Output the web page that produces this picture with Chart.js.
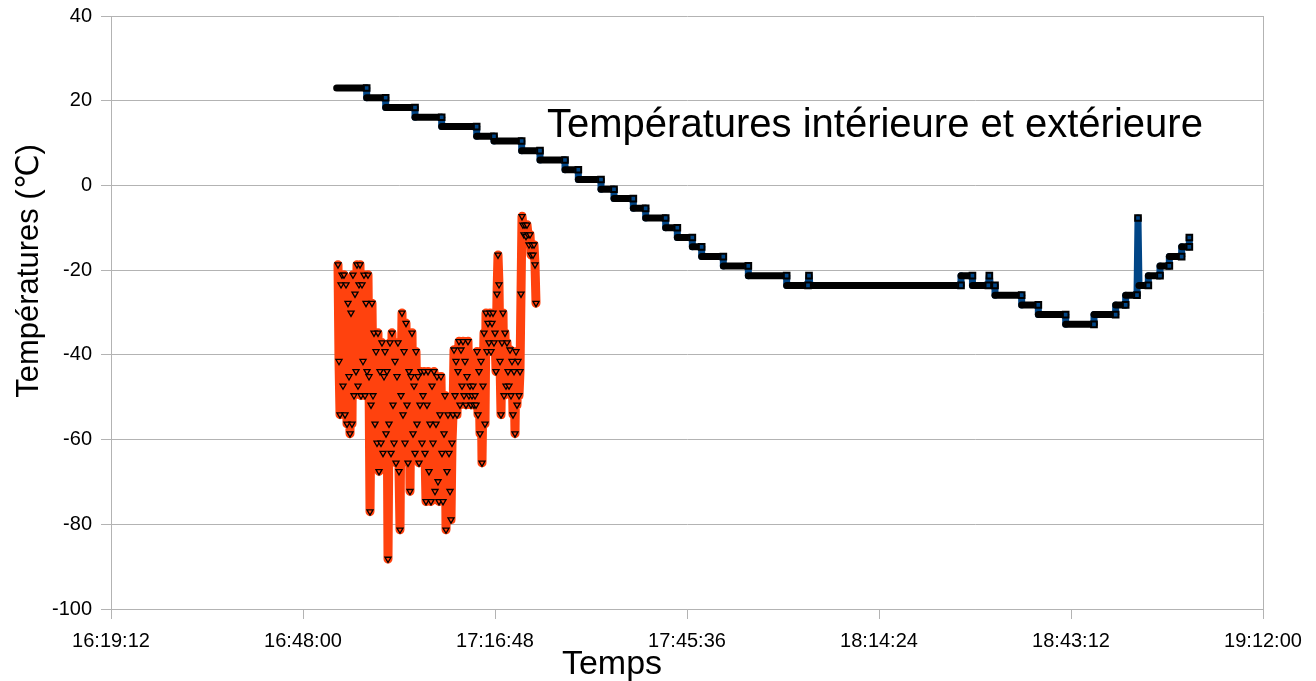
<!DOCTYPE html>
<html lang="fr">
<head>
<meta charset="utf-8">
<title>Températures intérieure et extérieure</title>
<script src="https://cdn.jsdelivr.net/npm/chart.js@4.4.1/dist/chart.umd.min.js"></script>
<style>
  html, body { margin: 0; padding: 0; background: #ffffff; }
  canvas { display: block; }
</style>
</head>
<body>
<canvas id="chart" width="1316" height="681"></canvas>
<script>
// ---- Data -------------------------------------------------------------
const chartTitle = 'Températures intérieure et extérieure';
const xAxisTitle = 'Temps';
const yAxisTitle = 'Températures (\u2103)';

// Axis range and ticks
const xStart = '16:19:12';
const xEnd = '19:12:00';
const xTickStep = '00:28:48';
const yMin = -100;
const yMax = 40;
const yTickStep = 20;

// Interior sensor: stepped readings (start / end of every plateau)
const insideTimes = [
  '16:53:03', '16:57:33', '16:57:33', '17:00:24', '17:00:24', '17:04:48', '17:04:48', '17:08:48',
  '17:08:48', '17:14:03', '17:14:03', '17:16:39', '17:16:39', '17:20:48', '17:20:48', '17:23:33',
  '17:23:33', '17:27:18', '17:27:18', '17:29:18', '17:29:18', '17:32:42', '17:32:42', '17:34:39',
  '17:34:39', '17:37:33', '17:37:33', '17:39:24', '17:39:24', '17:42:24', '17:42:24', '17:44:09',
  '17:44:09', '17:46:24', '17:46:24', '17:47:48', '17:47:48', '17:51:03', '17:51:03', '17:54:48',
  '17:54:48', '18:00:33', '18:00:33', '18:03:45', '18:03:54', '18:04:03', '18:26:42', '18:26:42',
  '18:28:25', '18:28:25', '18:30:48', '18:30:57', '18:31:06', '18:31:48', '18:31:48', '18:35:48',
  '18:35:48', '18:38:18', '18:38:18', '18:42:24', '18:42:24', '18:46:39', '18:46:39', '18:49:54',
  '18:49:54', '18:51:24', '18:51:24', '18:53:06', '18:53:15', '18:53:24', '18:54:48', '18:54:48',
  '18:56:33', '18:56:33', '18:57:57', '18:57:57', '18:59:48', '18:59:48', '19:00:57', '19:00:57'
];
const insideTemps = [
  23.0, 23.0, 20.7, 20.7, 18.4, 18.4, 16.1, 16.1,
  13.9, 13.9, 11.6, 11.6, 10.5, 10.5, 8.2, 8.2,
  6.0, 6.0, 3.7, 3.7, 1.4, 1.4, -0.9, -0.9,
  -3.1, -3.1, -5.4, -5.4, -7.7, -7.7, -10.0, -10.0,
  -12.3, -12.3, -14.5, -14.5, -16.8, -16.8, -19.0, -19.0,
  -21.3, -21.3, -23.6, -23.6, -21.3, -23.6, -23.6, -21.3,
  -21.3, -23.6, -23.6, -21.3, -23.6, -23.6, -25.9, -25.9,
  -28.2, -28.2, -30.5, -30.5, -32.8, -32.8, -30.5, -30.5,
  -28.2, -28.2, -25.9, -25.9, -7.7, -23.6, -23.6, -21.3,
  -21.3, -19.0, -19.0, -16.8, -16.8, -14.5, -14.5, -12.3
];

// Exterior sensor: raw noisy samples
const outsideTimes = [
  '16:53:15', '16:53:24', '16:53:33', '16:53:42', '16:53:51', '16:54:00', '16:54:09', '16:54:18', '16:54:27', '16:54:36',
  '16:54:45', '16:54:54', '16:55:03', '16:55:12', '16:55:21', '16:55:30', '16:55:39', '16:55:48', '16:55:57', '16:56:06',
  '16:56:15', '16:56:24', '16:56:33', '16:56:42', '16:56:51', '16:57:00', '16:57:09', '16:57:18', '16:57:27', '16:57:36',
  '16:57:45', '16:57:54', '16:58:03', '16:58:12', '16:58:21', '16:58:30', '16:58:39', '16:58:48', '16:58:57', '16:59:06',
  '16:59:15', '16:59:24', '16:59:33', '16:59:42', '16:59:51', '17:00:00', '17:00:09', '17:00:18', '17:00:27', '17:00:36',
  '17:00:45', '17:00:54', '17:01:03', '17:01:12', '17:01:21', '17:01:30', '17:01:39', '17:01:48', '17:01:57', '17:02:06',
  '17:02:15', '17:02:24', '17:02:33', '17:02:42', '17:02:51', '17:03:00', '17:03:09', '17:03:18', '17:03:27', '17:03:36',
  '17:03:45', '17:03:54', '17:04:03', '17:04:12', '17:04:21', '17:04:30', '17:04:39', '17:04:48', '17:04:57', '17:05:06',
  '17:05:15', '17:05:24', '17:05:33', '17:05:42', '17:05:51', '17:06:00', '17:06:09', '17:06:18', '17:06:27', '17:06:36',
  '17:06:45', '17:06:54', '17:07:03', '17:07:12', '17:07:21', '17:07:30', '17:07:39', '17:07:48', '17:07:57', '17:08:06',
  '17:08:15', '17:08:24', '17:08:33', '17:08:42', '17:08:51', '17:09:00', '17:09:09', '17:09:18', '17:09:27', '17:09:36',
  '17:09:45', '17:09:54', '17:10:03', '17:10:12', '17:10:21', '17:10:30', '17:10:39', '17:10:48', '17:10:57', '17:11:06',
  '17:11:15', '17:11:24', '17:11:33', '17:11:42', '17:11:51', '17:12:00', '17:12:09', '17:12:18', '17:12:27', '17:12:36',
  '17:12:45', '17:12:54', '17:13:03', '17:13:12', '17:13:21', '17:13:30', '17:13:39', '17:13:48', '17:13:57', '17:14:06',
  '17:14:15', '17:14:24', '17:14:33', '17:14:42', '17:14:51', '17:15:00', '17:15:09', '17:15:18', '17:15:27', '17:15:36',
  '17:15:45', '17:15:54', '17:16:03', '17:16:12', '17:16:21', '17:16:30', '17:16:39', '17:16:48', '17:16:57', '17:17:06',
  '17:17:15', '17:17:24', '17:17:33', '17:17:42', '17:17:51', '17:18:00', '17:18:09', '17:18:18', '17:18:27', '17:18:36',
  '17:18:45', '17:18:54', '17:19:03', '17:19:12', '17:19:21', '17:19:30', '17:19:39', '17:19:48', '17:19:57', '17:20:06',
  '17:20:15', '17:20:24', '17:20:33', '17:20:42', '17:20:51', '17:21:00', '17:21:09', '17:21:18', '17:21:27', '17:21:36',
  '17:21:45', '17:21:54', '17:22:03', '17:22:12', '17:22:21', '17:22:30', '17:22:39', '17:22:48', '17:22:57'
];
const outsideTemps = [
  -18.7, -41.5, -54.1, -23.4, -21.1, -47.3, -21.1, -54.1, -23.4, -56.3,
  -27.8, -45.1, -58.6, -30.1, -56.3, -21.1, -49.6, -25.6, -43.9, -18.7,
  -47.3, -23.4, -18.7, -49.6, -23.4, -41.5, -21.1, -49.6, -27.8, -43.9,
  -21.1, -45.1, -77.0, -51.8, -27.8, -49.6, -34.8, -56.3, -39.2, -60.8,
  -34.8, -67.5, -43.9, -60.8, -37.1, -63.2, -45.1, -39.2, -58.6, -43.9,
  -88.2, -56.3, -37.1, -63.2, -34.8, -51.8, -60.8, -41.5, -65.5, -45.1,
  -37.1, -67.5, -81.3, -49.6, -30.1, -54.1, -39.2, -60.8, -32.5, -51.8,
  -65.5, -43.9, -72.2, -45.1, -34.8, -58.6, -47.3, -63.2, -39.2, -56.3,
  -45.1, -65.5, -51.8, -43.9, -60.8, -49.6, -43.9, -63.2, -74.6, -51.8,
  -43.9, -67.5, -56.3, -74.6, -47.3, -60.8, -43.9, -72.2, -56.3, -45.1,
  -69.9, -74.6, -54.1, -45.1, -63.2, -74.6, -58.6, -49.6, -81.3, -67.5,
  -54.1, -63.2, -72.2, -78.9, -60.8, -54.1, -38.8, -49.6, -41.5, -54.1,
  -43.9, -36.8, -51.8, -38.8, -47.3, -36.8, -49.6, -41.5, -51.8, -45.1,
  -36.8, -49.6, -47.3, -51.8, -49.6, -47.3, -51.8, -49.6, -51.8, -39.2,
  -54.1, -43.9, -58.6, -41.5, -65.5, -47.3, -34.8, -56.3, -30.1, -39.2,
  -32.5, -37.1, -30.1, -39.2, -32.5, -30.1, -37.1, -34.8, -43.9, -25.6,
  -16.4, -23.4, -41.5, -54.1, -37.1, -30.1, -49.6, -34.8, -47.3, -37.1,
  -43.9, -47.3, -38.8, -49.6, -41.5, -54.1, -43.9, -58.6, -39.2, -51.8,
  -41.5, -49.6, -43.9, -25.6, -7.3, -9.3, -11.6, -9.3, -12.0, -9.3,
  -11.6, -14.0, -11.6, -16.4, -14.0, -16.4, -14.0, -18.7, -27.8
];

// ---- Helpers ----------------------------------------------------------
function toSeconds(hms) {
  const [h, m, s] = hms.split(':').map(Number);
  return h * 3600 + m * 60 + s;
}
function toClock(sec) {
  const s = Math.round(sec);
  const pad = n => String(n).padStart(2, '0');
  return pad(Math.floor(s / 3600)) + ':' + pad(Math.floor((s % 3600) / 60)) + ':' + pad(s % 60);
}
function points(times, temps) {
  return times.map((t, i) => ({ x: toSeconds(t), y: temps[i] }));
}

// ---- Styling ----------------------------------------------------------
const FONT = '"Liberation Sans", Arial, "DejaVu Sans", sans-serif';
const BLUE = '#004586';
const ORANGE = '#ff420e';
const GRID = '#b3b3b3';
const X_TICKS_LAST = toSeconds(xEnd);

// Free-floating texts: chart title and both axis titles
const chartTexts = {
  id: 'chartTexts',
  afterDraw(chart) {
    const c = chart.ctx;
    c.save();
    c.fillStyle = '#000000';
    c.textAlign = 'left';
    c.textBaseline = 'alphabetic';
    c.font = '40px ' + FONT;
    c.fillText(chartTitle, 547, 137);

    c.textAlign = 'center';
    c.font = '34px ' + FONT;
    c.fillText(xAxisTitle, 612, 674);

    c.translate(29, 271);
    c.rotate(-Math.PI / 2);
    c.textBaseline = 'middle';
    c.font = '31px ' + FONT;
    c.fillText(yAxisTitle, 0, 0);
    c.restore();
  }
};

new Chart(document.getElementById('chart'), {
  type: 'line',
  data: {
    datasets: [
      {
        label: 'Intérieure',
        data: points(insideTimes, insideTemps),
        borderColor: BLUE,
        borderWidth: 7,
        borderCapStyle: 'round',
        borderJoinStyle: 'round',
        tension: 0,
        fill: false,
        // plateaus are covered by the dense black sample markers
        segment: {
          borderColor: s => (s.p0.parsed.y === s.p1.parsed.y ? '#000000' : undefined)
        },
        pointStyle: 'rect',
        pointRadius: ctx => {
          const i = ctx.dataIndex;
          return (i === insideTemps.length - 1 || insideTemps[i + 1] !== insideTemps[i]) ? 4 : 0;
        },
        pointBackgroundColor: BLUE,
        pointBorderColor: '#000000',
        pointBorderWidth: 2,
        order: 1
      },
      {
        label: 'Extérieure',
        data: points(outsideTimes, outsideTemps),
        borderColor: ORANGE,
        borderWidth: 9,
        borderCapStyle: 'round',
        borderJoinStyle: 'round',
        tension: 0,
        fill: false,
        pointStyle: 'triangle',
        rotation: 180,
        pointRadius: 3.5,
        pointBackgroundColor: ORANGE,
        pointBorderColor: '#000000',
        pointBorderWidth: 1.3,
        order: 2
      }
    ]
  },
  options: {
    responsive: false,
    devicePixelRatio: 1,
    animation: false,
    events: [],
    layout: { padding: { left: 0, right: 53, top: 16, bottom: 0 } },
    plugins: {
      legend: { display: false },
      tooltip: { enabled: false },
      title: { display: false }
    },
    scales: {
      x: {
        type: 'linear',
        min: toSeconds(xStart),
        max: toSeconds(xEnd),
        afterFit: scale => { scale.height = 72; scale.paddingLeft = 0; scale.paddingRight = 0; },
        border: { color: GRID, width: 1 },
        grid: {
          color: ctx => (ctx.tick && ctx.tick.value === X_TICKS_LAST ? GRID : 'rgba(0,0,0,0)'),
          tickColor: GRID,
          tickLength: 10,
          lineWidth: 1
        },
        ticks: {
          stepSize: toSeconds(xTickStep),
          autoSkip: false,
          maxRotation: 0,
          padding: 10,
          color: '#000000',
          font: { family: FONT, size: 20 },
          callback: v => toClock(v)
        }
      },
      y: {
        min: yMin,
        max: yMax,
        afterFit: scale => { scale.width = 111; scale.paddingTop = 0; scale.paddingBottom = 0; },
        border: { color: GRID, width: 1 },
        grid: { color: GRID, tickColor: GRID, tickLength: 10, lineWidth: 1 },
        ticks: {
          stepSize: yTickStep,
          padding: 9,
          color: '#000000',
          font: { family: FONT, size: 20 }
        }
      }
    }
  },
  plugins: [chartTexts]
});
</script>
</body>
</html>
